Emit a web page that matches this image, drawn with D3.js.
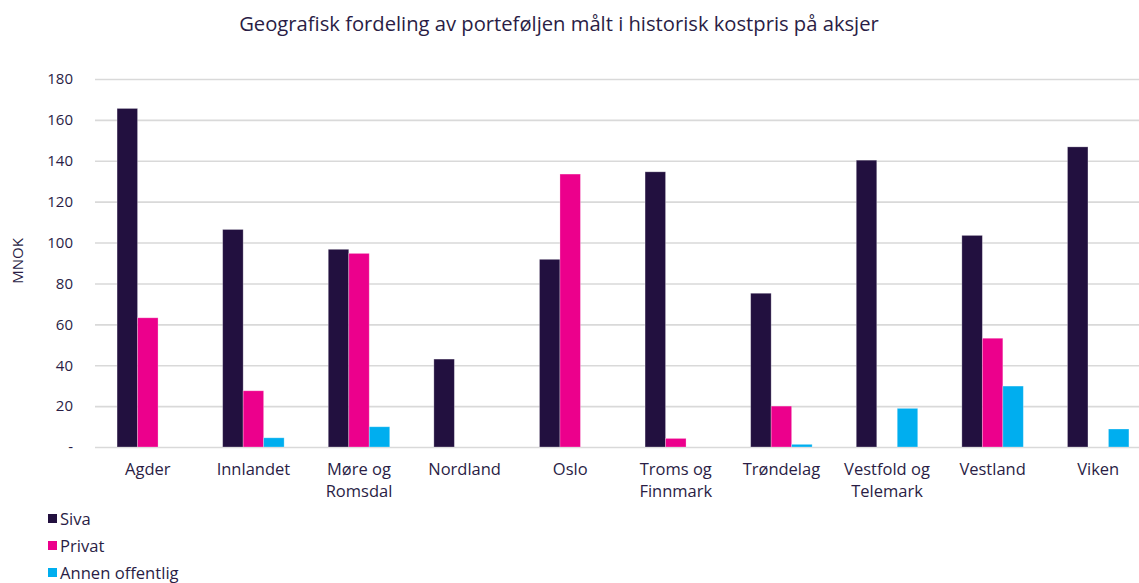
<!DOCTYPE html>
<html>
<head>
<meta charset="utf-8">
<script src="https://cdn.jsdelivr.net/npm/d3@7"></script>
<style>
  html, body { margin: 0; padding: 0; background: #fff; }
  svg { display: block; }
  text { font-family: "Open Sans", "Noto Sans", sans-serif; fill: #2a1d45; }
</style>
</head>
<body>
<svg id="chart" width="1139" height="583"></svg>
<script>
// Regions (line breaks mark wrapped labels)
const categories = ["Agder", "Innlandet", "Møre og\nRomsdal", "Nordland", "Oslo",
  "Troms og\nFinnmark", "Trøndelag", "Vestfold og\nTelemark", "Vestland", "Viken"];

// Cost price in MNOK per investor group
const siva   = [165.6, 106.4, 96.7, 43.0, 91.8, 134.6, 75.2, 140.3, 103.5, 146.8];
const privat = [63.2, 27.5, 94.7, 0, 133.5, 4.2, 20.0, 0, 53.2, 0];
const annen  = [0, 4.5, 9.9, 0, 0, 0, 1.3, 18.9, 29.8, 8.8];

const seriesNames = ["Siva", "Privat", "Annen offentlig"];
const seriesValues = [siva, privat, annen];
const seriesColors = ["#22103f", "#ec008c", "#00aeef"];

const yTicks = [0, 20, 40, 60, 80, 100, 120, 140, 160, 180];

const svg = d3.select("#chart");
const plot = { left: 95, right: 1151, top: 79, bottom: 447 };

const x = d3.scaleBand()
  .domain(d3.range(categories.length))
  .range([plot.left, plot.right])
  .paddingInner(0.418)
  .paddingOuter(0.209);

const xs = d3.scaleBand()
  .domain(d3.range(seriesNames.length))
  .range([0, x.bandwidth()]);

const y = d3.scaleLinear().domain([0, 180]).range([plot.bottom, plot.top]);

// Title
svg.append("text")
  .attr("x", 559).attr("y", 31)
  .attr("text-anchor", "middle")
  .style("font-size", "20.2px")
  .text("Geografisk fordeling av porteføljen målt i historisk kostpris på aksjer");

// Horizontal gridlines with value labels
const yAxis = d3.axisLeft(y)
  .tickValues(yTicks)
  .tickSize(-(plot.right - plot.left))
  .tickPadding(22)
  .tickFormat(d => d === 0 ? "-" : d);

const gy = svg.append("g")
  .attr("transform", `translate(${plot.left},0)`)
  .call(yAxis);
gy.select(".domain").remove();
gy.selectAll(".tick line").attr("stroke", "#d9d9d9").attr("stroke-width", 1.6);
gy.selectAll(".tick text").style("font-size", "15px").attr("fill", "#2a1d45");

// Y-axis title
svg.append("text")
  .attr("transform", "translate(23,261) rotate(-90)")
  .attr("text-anchor", "middle")
  .style("font-size", "15px")
  .text("MNOK");

// Bars
const groups = svg.append("g").selectAll("g")
  .data(categories)
  .join("g")
  .attr("transform", (d, i) => `translate(${x(i)},0)`);

groups.selectAll("rect")
  .data((d, i) => seriesValues.map((vals, s) => ({ s, v: vals[i] })))
  .join("rect")
  .filter(d => d.v > 0)
  .attr("x", d => xs(d.s))
  .attr("width", xs.bandwidth())
  .attr("y", d => y(d.v))
  .attr("height", d => y(0) - y(d.v))
  .attr("fill", d => seriesColors[d.s])
  .attr("stroke", "#ffffff")
  .attr("stroke-opacity", 0.35)
  .attr("stroke-width", 0.8);

// Category labels
const labels = svg.append("g").selectAll("text")
  .data(categories)
  .join("text")
  .attr("x", (d, i) => x(i) + x.bandwidth() / 2)
  .attr("y", 475)
  .attr("text-anchor", "middle")
  .style("font-size", "16.5px");
labels.each(function(d) {
  const t = d3.select(this);
  d.split("\n").forEach((line, k) => {
    t.append("tspan")
      .attr("x", t.attr("x"))
      .attr("dy", k === 0 ? 0 : 22)
      .text(line);
  });
});

// Legend
const legend = svg.append("g").selectAll("g")
  .data(seriesNames)
  .join("g")
  .attr("transform", (d, i) => `translate(48,${519 + i * 27})`);
legend.append("rect")
  .attr("x", 0).attr("y", -5)
  .attr("width", 9).attr("height", 9)
  .attr("fill", (d, i) => seriesColors[i]);
legend.append("text")
  .attr("x", 12).attr("y", 6)
  .style("font-size", "16.6px")
  .text(d => d);
</script>
</body>
</html>
